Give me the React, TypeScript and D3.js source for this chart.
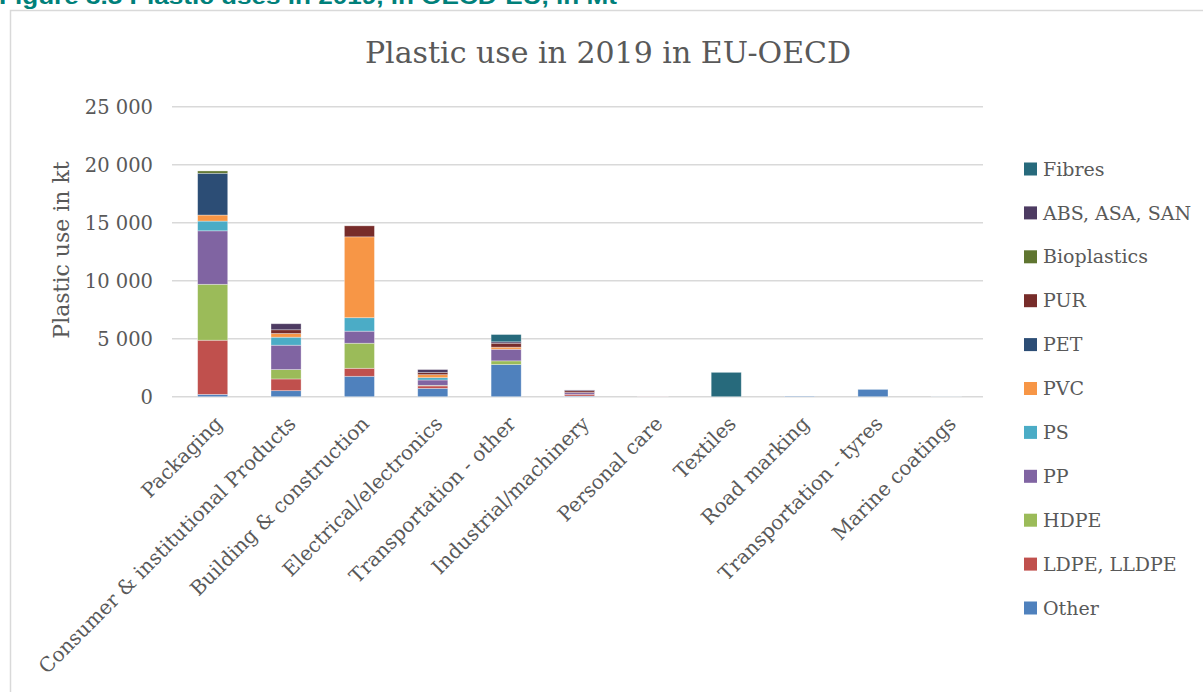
import React from "react";
import * as d3 from "d3";

const categories = [
  "Packaging",
  "Consumer & institutional Products",
  "Building & construction",
  "Electrical/electronics",
  "Transportation - other",
  "Industrial/machinery",
  "Personal care",
  "Textiles",
  "Road marking",
  "Transportation - tyres",
  "Marine coatings",
];

// values in kt, stacked bottom -> top in this order
const other = [200, 520, 1760, 720, 2770, 60, 10, 0, 50, 630, 10];
const ldpe = [4670, 1010, 690, 210, 0, 150, 10, 0, 0, 0, 0];
const hdpe = [4820, 810, 2160, 50, 320, 0, 0, 0, 0, 0, 0];
const pp = [4610, 2100, 1040, 460, 1000, 150, 0, 0, 0, 0, 0];
const ps = [840, 690, 1160, 200, 0, 0, 0, 0, 0, 0, 0];
const pvc = [520, 320, 6970, 260, 180, 0, 0, 0, 0, 0, 0];
const pet = [3600, 0, 0, 0, 0, 0, 0, 0, 0, 0, 0];
const pur = [0, 320, 950, 180, 340, 150, 0, 0, 0, 0, 0];
const bioplastics = [200, 0, 0, 0, 0, 0, 0, 0, 0, 0, 0];
const abs = [0, 520, 0, 260, 120, 70, 0, 0, 0, 0, 0];
const fibres = [0, 0, 0, 0, 630, 0, 0, 2100, 0, 0, 0];

const seriesNames = [
  "Other",
  "LDPE, LLDPE",
  "HDPE",
  "PP",
  "PS",
  "PVC",
  "PET",
  "PUR",
  "Bioplastics",
  "ABS, ASA, SAN",
  "Fibres",
];
const seriesValues = [other, ldpe, hdpe, pp, ps, pvc, pet, pur, bioplastics, abs, fibres];
const seriesColors = [
  "#4F81BD",
  "#C0504D",
  "#9BBB59",
  "#8064A2",
  "#4BACC6",
  "#F79646",
  "#2C4D75",
  "#772C2A",
  "#5F7530",
  "#4D3B62",
  "#276A7C",
];

const yTicks = [0, 5000, 10000, 15000, 20000, 25000];

const FONT = "'DejaVu Serif', 'Liberation Serif', serif";
const TXT = "#595959";

export default function App() {
  const W = 1203;
  const H = 692;
  const x = d3
    .scaleBand<string>()
    .domain(categories)
    .range([176, 983])
    .paddingInner(0.59)
    .paddingOuter(0.295);
  const y = d3.scaleLinear().domain([0, 25000]).range([396.7, 106.7]);

  const rows = categories.map((c, i) => {
    const r: Record<string, any> = { cat: c };
    seriesNames.forEach((s, j) => (r[s] = seriesValues[j][i]));
    return r;
  });
  const stack = d3.stack<Record<string, any>>().keys(seriesNames)(rows);
  const fmt = (v: number) => d3.format(",")(v).replace(/,/g, " ");

  const legendOrder = seriesNames.map((_, i) => i).reverse();

  return (
    <svg
      width={W}
      height={H}
      style={{ position: "absolute", left: 0, top: 0, background: "#fff" }}
      fontFamily={FONT}
    >
      <rect x={0} y={0} width={W} height={H} fill="#fff" />
      {/* cut-off figure heading */}
      <text
        x={-1}
        y={4}
        fontFamily="'Liberation Sans', Arial, sans-serif"
        fontWeight="bold"
        fontSize={22}
        fill="#00807a"
        textLength={618}
        lengthAdjust="spacingAndGlyphs"
      >
        Figure 3.5 Plastic uses in 2019, in OECD-EU, in Mt
      </text>
      {/* chart border */}
      <rect x={10.5} y={10.5} width={W + 10} height={H + 10} fill="none" stroke="#D9D9D9" strokeWidth={1.5} />

      <text x={608} y={63} textAnchor="middle" fontSize={30} fill={TXT}>
        Plastic use in 2019 in EU-OECD
      </text>

      {yTicks.map((t) => (
        <g key={t}>
          <line x1={172} x2={983} y1={y(t)} y2={y(t)} stroke="#D9D9D9" strokeWidth={1.5} />
          <text x={153} y={y(t)} dy="0.35em" textAnchor="end" fontSize={19.5} fill={TXT}>
            {fmt(t)}
          </text>
        </g>
      ))}

      <text
        transform={`translate(69,250) rotate(-90)`}
        textAnchor="middle"
        fontSize={22}
        fill={TXT}
      >
        Plastic use in kt
      </text>

      {stack.map((layer, j) => (
        <g key={seriesNames[j]} fill={seriesColors[j]}>
          {layer.map((d, i) =>
            d[1] - d[0] > 0 ? (
              <rect
                key={i}
                x={x(categories[i])}
                width={x.bandwidth()}
                y={y(d[1])}
                height={y(d[0]) - y(d[1])}
                stroke="#ffffff"
                strokeOpacity={0.45}
                strokeWidth={0.75}
              />
            ) : null
          )}
        </g>
      ))}

      {categories.map((c) => {
        const cx = (x(c) as number) + x.bandwidth() / 2;
        return (
          <text
            key={c}
            transform={`translate(${cx + 6},${420}) rotate(-45)`}
            textAnchor="end"
            dy="0.35em"
            fontSize={20}
            fill={TXT}
          >
            {c}
          </text>
        );
      })}

      {legendOrder.map((si, k) => {
        const cy = 169 + k * 43.9;
        return (
          <g key={seriesNames[si]}>
            <rect x={1024} y={cy - 6.5} width={13} height={13} fill={seriesColors[si]} />
            <text x={1043} y={cy} dy="0.35em" fontSize={19} fill={TXT}>
              {seriesNames[si]}
            </text>
          </g>
        );
      })}
    </svg>
  );
}
